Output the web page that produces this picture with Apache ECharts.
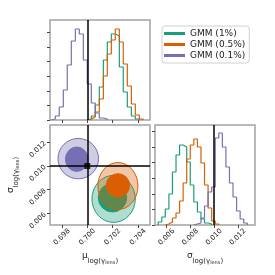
<!DOCTYPE html>
<html><head><meta charset="utf-8">
<script src="https://cdn.jsdelivr.net/npm/echarts@6/dist/echarts.min.js"></script>
<style>html,body{margin:0;padding:0;background:#fff}#c{width:275px;height:275px}</style>
</head><body><div id="c"></div>
<script>
const seriesNames = ['GMM (1%)', 'GMM (0.5%)', 'GMM (0.1%)'];
const colors = ['#1b9e77', '#d95f02', '#7570b3'];

// mu histogram bin edges and heights (% of panel height)
const muEdges = [0.69716,0.69748,0.69779,0.69811,0.69842,0.69874,0.69906,0.69937,0.69969,0.70000,
  0.70032,0.70063,0.70095,0.70127,0.70158,0.70190,0.70221,0.70253,0.70284,0.70316,0.70348,0.70379,0.70411,0.70442,0.70474];
const muCountsG = [0,0,0,0,0,0,0,0,0,1,4,15,33,60,78,86,84,53,28,13,4,1,0,0];
const muCountsO = [0,0,0,0,0,0,0,0,0,1,3,8,21,44,66,80,91,78,56,34,16,5,1,0];
const muCountsP = [1,4,13,30,55,79,91,86,60,36,17,7,2,1,0,0,0,0,0,0,0,0,0,0];

// sigma histogram bin edges and heights
const sigEdges = [0.0053,0.0056,0.0059,0.0062,0.0065,0.0068,0.0071,0.0074,0.0077,0.0080,0.0083,0.0086,0.0089,
  0.0092,0.0095,0.0098,0.0101,0.0104,0.0107,0.0110,0.0113,0.0116,0.0119,0.0122,0.0125,0.0128];
const sigCountsG = [3,8,16,31,53,70,80,78,63,40,23,13,6,2,1,0,0,0,0,0,0,0,0,0,0];
const sigCountsO = [0,0,1,3,7,12,24,42,66,80,86,78,62,40,17,4,1,0,0,0,0,0,0,0,0];
const sigCountsP = [0,0,0,0,0,0,0,0,0,0,1,2,7,19,33,38,87,92,78,58,42,28,14,6,2];

// 2D contours: [mu centre, sigma centre, mu radius, sigma radius]  (outer = 2 sigma, inner = 1 sigma)
const contourG = [[0.70208,0.00723,0.00171,0.00198],[0.70199,0.00733,0.00112,0.00120]];
const contourO = [[0.70242,0.00831,0.00158,0.00198],[0.70242,0.00836,0.00092,0.00099]];
const contourP = [[0.69929,0.01062,0.00160,0.00170],[0.69917,0.01057,0.00089,0.00103]];

const truthMu = 0.700;
const truthSig = 0.010;

const muRange = [0.69706, 0.70495];
const sigRange = [0.00503, 0.01345];
const muTicks = [0.698, 0.700, 0.702, 0.704];
const sigTicks = [0.006, 0.008, 0.010, 0.012];
const histTicksMu = [0, 14.6, 29.2, 43.8, 58.4, 73.0, 87.6];
const histTicksSig = [0, 15.6, 31.2, 46.8, 62.4, 78.0, 93.6];

const FONT = 'DejaVu Sans';
const frame = '#a3a3a3';

function stepData(edges, counts) {
  let a = counts.findIndex(v => v > 0);
  let b = counts.length - 1;
  while (b > 0 && counts[b] === 0) b--;
  const d = [[edges[a], 0]];
  for (let i = a; i <= b; i++) d.push([edges[i], counts[i]]);
  d.push([edges[b + 1], 0]);
  return d;
}

const fmt = v => v.toFixed(3);
const tickStyle = {show: true, length: 3, lineStyle: {color: '#444', width: 1}};

function valAxis(grid, range, ticks, showLabels, extra) {
  return Object.assign({
    type: 'value', gridIndex: grid, min: range[0], max: range[1],
    splitLine: {show: false},
    axisLine: {show: false},
    axisTick: Object.assign({customValues: ticks}, tickStyle),
    axisLabel: {show: showLabels, customValues: ticks, formatter: fmt, fontSize: 7, fontFamily: FONT, color: '#222'}
  }, extra || {});
}

const rich = {
  m: {fontSize: 9, fontFamily: FONT, color: '#222', lineHeight: 14, verticalAlign: 'top'},
  s: {fontSize: 7, fontFamily: FONT, color: '#222', lineHeight: 8, verticalAlign: 'bottom'},
  ss: {fontSize: 5, fontFamily: FONT, color: '#222', lineHeight: 5, verticalAlign: 'bottom'}
};

const xAxes = [
  valAxis(0, muRange, muTicks, false),
  valAxis(1, muRange, muTicks, true, {
    name: '{m|μ}{s|log(γ}{ss|lens}{s|)}', nameLocation: 'middle', nameGap: 26,
    nameTextStyle: {rich: rich}
  }),
  valAxis(2, sigRange, sigTicks, true, {
    name: '{m|σ}{s|log(γ}{ss|lens}{s|)}', nameLocation: 'middle', nameGap: 26,
    nameTextStyle: {rich: rich}
  })
];
xAxes[1].axisLabel = Object.assign(xAxes[1].axisLabel, {rotate: 45, align: 'center', verticalAlign: 'middle', margin: 12});
xAxes[2].axisLabel = Object.assign(xAxes[2].axisLabel, {rotate: 45, align: 'center', verticalAlign: 'middle', margin: 12});

const yAxes = [
  valAxis(0, [0, 100], histTicksMu, false),
  valAxis(1, sigRange, sigTicks, true, {
    name: '{m|σ}{s|log(γ}{ss|lens}{s|)}', nameLocation: 'middle', nameGap: 30, nameRotate: 90,
    nameTextStyle: {rich: rich}
  }),
  valAxis(2, [0, 100], histTicksSig, false)
];
yAxes[1].axisLabel = Object.assign(yAxes[1].axisLabel, {rotate: 45, margin: 5});

function histSeries(name, color, xi, edges, counts) {
  return {
    type: 'line', name: name, xAxisIndex: xi, yAxisIndex: xi,
    data: stepData(edges, counts), step: 'end', showSymbol: false, symbol: 'none',
    lineStyle: {color: color, width: 1.2}, itemStyle: {color: color},
    animation: false, silent: true, z: 3
  };
}

function contourSeries(name, color, data) {
  return {
    type: 'custom', name: name, xAxisIndex: 1, yAxisIndex: 1, data: data,
    animation: false, silent: true, z: 2, itemStyle: {color: color},
    renderItem: function (params, api) {
      const c = api.coord([api.value(0), api.value(1)]);
      const s = api.size([api.value(2), api.value(3)]);
      const outer = params.dataIndex === 0;
      return {
        type: 'path',
        shape: {pathData: 'M0 1A1 1 0 1 0 2 1A1 1 0 1 0 0 1Z', x: c[0] - s[0], y: c[1] - s[1],
          width: 2 * s[0], height: 2 * s[1], layout: 'cover'},
        style: outer ? {fill: echarts.color.modifyAlpha(color, 0.35), stroke: color, lineWidth: 1}
                     : {fill: color, stroke: color, lineWidth: 1}
      };
    }
  };
}

const truthLine = {color: '#000', width: 1.5, type: 'solid'};

const option = {
  backgroundColor: '#fff',
  animation: false,
  grid: [
    {left: 50, top: 20, width: 100, height: 100, show: true, borderColor: frame, borderWidth: 1.5, backgroundColor: 'transparent'},
    {left: 50, top: 125, width: 100, height: 100, show: true, borderColor: frame, borderWidth: 1.5, backgroundColor: 'transparent'},
    {left: 155, top: 125, width: 100, height: 100, show: true, borderColor: frame, borderWidth: 1.5, backgroundColor: 'transparent'}
  ],
  xAxis: xAxes,
  yAxis: yAxes,
  legend: {
    left: 162, top: 26, orient: 'vertical', icon: 'rect', itemWidth: 21, itemHeight: 3, itemGap: 2,
    padding: [3, 4, 3, 2], borderColor: '#d0d0d0', borderWidth: 1, borderRadius: 3, backgroundColor: '#fff',
    textStyle: {fontSize: 9, fontFamily: FONT, color: '#222'},
    selectedMode: false,
    data: seriesNames.map((n, i) => ({name: n, icon: 'rect', itemStyle: {color: colors[i]}}))
  },
  series: [
    histSeries(seriesNames[0], colors[0], 0, muEdges, muCountsG),
    histSeries(seriesNames[1], colors[1], 0, muEdges, muCountsO),
    Object.assign(histSeries(seriesNames[2], colors[2], 0, muEdges, muCountsP), {
      markLine: {symbol: 'none', silent: true, animation: false, label: {show: false}, lineStyle: truthLine, data: [{xAxis: truthMu}]}
    }),
    contourSeries(seriesNames[0], colors[0], contourG),
    contourSeries(seriesNames[1], colors[1], contourO),
    contourSeries(seriesNames[2], colors[2], contourP),
    {
      type: 'scatter', xAxisIndex: 1, yAxisIndex: 1, data: [[truthMu, truthSig]],
      symbol: 'rect', symbolSize: 6, itemStyle: {color: '#000'}, z: 5, silent: true, animation: false,
      markLine: {symbol: 'none', silent: true, animation: false, label: {show: false}, lineStyle: truthLine, z: 4,
        data: [{xAxis: truthMu}, {yAxis: truthSig}]}
    },
    histSeries(seriesNames[0], colors[0], 2, sigEdges, sigCountsG),
    histSeries(seriesNames[1], colors[1], 2, sigEdges, sigCountsO),
    Object.assign(histSeries(seriesNames[2], colors[2], 2, sigEdges, sigCountsP), {
      markLine: {symbol: 'none', silent: true, animation: false, label: {show: false}, lineStyle: truthLine, data: [{xAxis: truthSig}]}
    })
  ]
};

const chart = echarts.init(document.getElementById('c'), null, {renderer: 'canvas'});
chart.setOption(option);
</script>
</body></html>
